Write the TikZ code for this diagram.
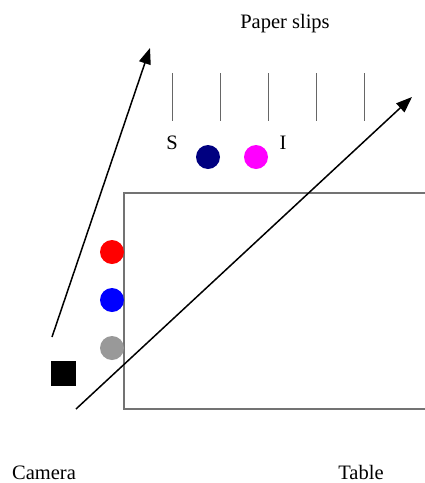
\documentclass[tikz,border=0pt]{standalone}
\usepackage{fontspec}
\setmainfont{Liberation Serif}
\usetikzlibrary{arrows.meta}
\begin{document}
\begin{tikzpicture}[x=1pt,y=-1pt,
  lbl/.style={font=\fontsize{20.5}{24}\selectfont, inner sep=0pt, anchor=base},
  dot/.style={circle, inner sep=0pt, minimum size=24pt},
  slip/.style={draw=black!60, line width=1pt},
  ray/.style={line width=1.5pt, -{Triangle[length=16pt,width=12pt]}}]
\useasboundingbox (0,0) rectangle (425,483);
\draw[draw=black!55, line width=1.2pt] (425,193) -- (124,193) -- (124,409) -- (425,409);
\foreach \x/\n in {172/a,220/b,268/c,316/d,364/e}
  \draw[slip] (\x,73) -- (\x,121);
\node[lbl] (title) at (285,28) {Paper slips};
\node[lbl] (S) at (172,149) {S};
\node[lbl] (I) at (283,149) {I};
\node[dot, fill={rgb,255:red,0;green,0;blue,128}] (navy) at (208,157) {};
\node[dot, fill={rgb,255:red,255;green,0;blue,255}] (mag) at (256,157) {};
\node[dot, fill=red] (r) at (112,252) {};
\node[dot, fill=blue] (b) at (112,300) {};
\node[dot, fill=black!40] (g) at (112,348) {};
\node[fill=black, minimum size=25pt, inner sep=0pt] (cam) at (63,373) {};
\coordinate (a1s) at (52,337);
\coordinate (a1e) at (150,48);
\coordinate (a2s) at (76,409);
\coordinate (a2e) at (412,97);
\draw[ray] (a1s) -- (a1e);
\draw[ray] (a2s) -- (a2e);
\node[lbl] (camera) at (44,479) {Camera};
\node[lbl] (table) at (361,479) {Table};
\end{tikzpicture}
\end{document}
